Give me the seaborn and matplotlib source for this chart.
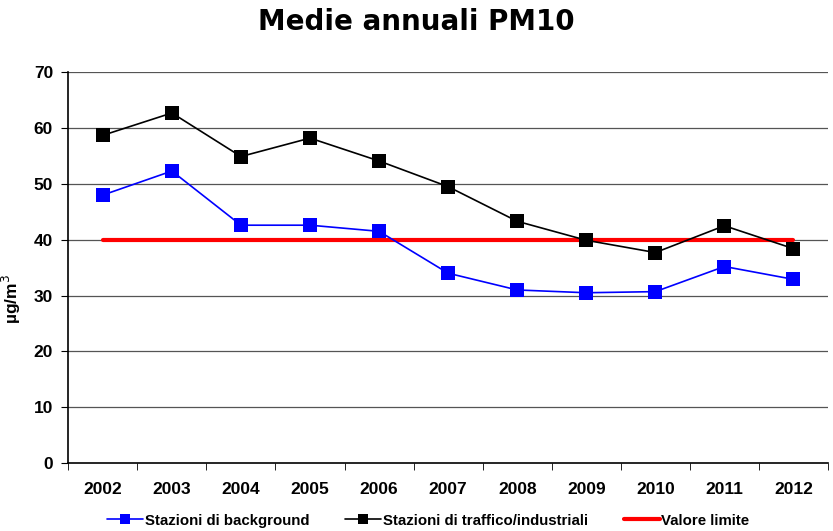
import numpy as np
import pandas as pd
import matplotlib.pyplot as plt
import seaborn as sns

years = ['2002', '2003', '2004', '2005', '2006', '2007', '2008', '2009', '2010', '2011', '2012']
background = [48.0, 52.3, 42.6, 42.6, 41.5, 34.0, 31.0, 30.5, 30.7, 35.2, 32.9]
traffico = [58.7, 62.7, 54.9, 58.2, 54.1, 49.5, 43.3, 39.9, 37.7, 42.5, 38.4]
limite = [40] * len(years)

df = pd.DataFrame({'pos': np.arange(len(years)), 'year': years,
                   'background': background, 'traffico': traffico, 'limite': limite})

sns.set_style('white')
plt.rcParams['font.family'] = ['Liberation Sans', 'DejaVu Sans']
plt.rcParams.update({'text.color': 'black', 'axes.labelcolor': 'black',
                     'xtick.color': 'black', 'ytick.color': 'black'})

fig = plt.figure(figsize=(8.33, 5.31), dpi=100)
ax = fig.add_axes([0.082, 0.128, 0.912, 0.736])

for v in range(10, 71, 10):
    ax.axhline(v, color='#555555', lw=0.9, zorder=0)

sns.lineplot(data=df, x='pos', y='limite', color='#ff0000', lw=3, ax=ax,
             label='Valore limite', zorder=2)
sns.lineplot(data=df, x='pos', y='traffico', color='black', lw=1.2, marker='s',
             markersize=10, markeredgewidth=0, ax=ax,
             label='Stazioni di traffico/industriali', zorder=3)
sns.lineplot(data=df, x='pos', y='background', color='#0000ff', lw=1.2, marker='s',
             markersize=10, markeredgewidth=0, ax=ax,
             label='Stazioni di background', zorder=3)

ax.set_xlim(-0.5, len(years) - 0.5)
ax.set_ylim(0, 70)
ax.set_yticks(range(0, 71, 10))
ax.set_xticks(df['pos'])
ax.set_xticklabels(years, fontsize=12.5, fontweight='bold')
ax.set_xticks(np.arange(-0.5, len(years), 1), minor=True)
ax.tick_params(axis='x', which='major', length=0, pad=14)
ax.tick_params(axis='x', which='minor', length=5, color='black', direction='out', bottom=True)
ax.tick_params(axis='y', length=5, color='black', direction='out', left=True, pad=6)
for lab in ax.get_yticklabels():
    lab.set_fontsize(12.5)
    lab.set_fontweight('bold')

for s in ['top', 'right']:
    ax.spines[s].set_visible(False)
for s in ['left', 'bottom']:
    ax.spines[s].set_color('black')
    ax.spines[s].set_linewidth(1.2)

ax.set_xlabel('')
ax.set_ylabel('µg/m$^3$', fontsize=12.5, fontweight='bold')
ax.yaxis.set_label_coords(-0.06, 0.42)

fig.suptitle('Medie annuali PM10', x=0.5, y=0.985, fontsize=20, fontweight='bold',
             family='DejaVu Sans', color='black')

h, l = ax.get_legend_handles_labels()
order = [2, 1, 0]
ax.legend([h[i] for i in order], [l[i] for i in order], loc='lower center',
          bbox_to_anchor=(0.474, -0.2), ncol=3, frameon=False,
          handlelength=2.4, handletextpad=0.1, columnspacing=2.4, markerscale=0.65,
          prop={'weight': 'bold', 'size': 10.8})

fig.savefig('out.png', dpi=100)
